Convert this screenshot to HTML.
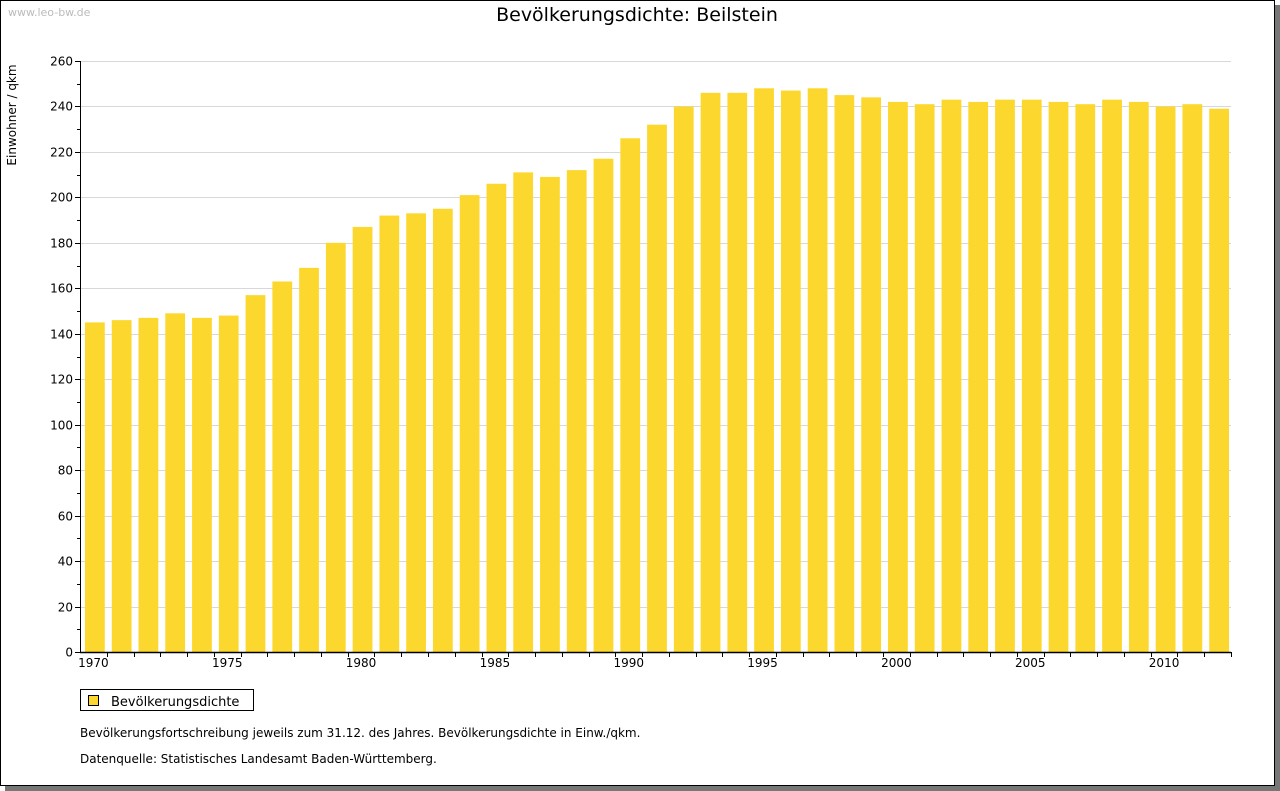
<!DOCTYPE html>
<html><head><meta charset="utf-8"><style>
body{margin:0;background:#fff;}
#frame{position:absolute;left:0;top:0;width:1273px;height:784px;border:1px solid #000;background:#fff;box-shadow:5px 5px 0 #777;font-family:"DejaVu Sans","Liberation Sans",sans-serif;}
</style></head><body>
<div id="frame">
<svg width="1280" height="791" style="position:absolute;left:-1px;top:-1px" font-family="DejaVu Sans, Liberation Sans, sans-serif">
<text x="8" y="16" font-size="11" fill="#bbb">www.leo-bw.de</text>
<text x="637" y="21" font-size="19" text-anchor="middle" fill="#000">Bevölkerungsdichte: Beilstein</text>
<text transform="translate(16,115) rotate(-90)" font-size="12" text-anchor="middle">Einwohner / qkm</text>
<g id="grid"></g><g id="bars"></g><g id="axes"></g>
<rect x="80.5" y="689.5" width="173" height="21" fill="#fff" stroke="#000"/>
<rect x="88.5" y="695.5" width="10" height="10" fill="#fcd82e" stroke="#000"/>
<text x="111" y="706" font-size="13">Bevölkerungsdichte</text>
<text x="80" y="737" font-size="12">Bevölkerungsfortschreibung jeweils zum 31.12. des Jahres. Bevölkerungsdichte in Einw./qkm.</text>
<text x="80" y="763" font-size="12">Datenquelle: Statistisches Landesamt Baden-Württemberg.</text>
</svg></div>
<script>
const years=[1970,1971,1972,1973,1974,1975,1976,1977,1978,1979,1980,1981,1982,1983,1984,1985,1986,1987,1988,1989,1990,1991,1992,1993,1994,1995,1996,1997,1998,1999,2000,2001,2002,2003,2004,2005,2006,2007,2008,2009,2010,2011,2012];
const values=[145,146,147,149,147,148,157,163,169,180,187,192,193,195,201,206,211,209,212,217,226,232,240,246,246,248,247,248,245,244,242,241,243,242,243,243,242,241,243,242,240,241,239];
const yTicks=[0,20,40,60,80,100,120,140,160,180,200,220,240,260];
const NS="http://www.w3.org/2000/svg";
const X0=80,X1=1231,Y0=652,Y1=61,YMAX=260;
const step=(X1-X0)/years.length;
const xs=i=>X0+step*i;
const ys=v=>Y0-(v/YMAX)*(Y0-Y1);
function mk(t,a,p){const e=document.createElementNS(NS,t);for(const k in a)e.setAttribute(k,a[k]);p.appendChild(e);return e;}
const g=document.getElementById('grid'),b=document.getElementById('bars'),ax=document.getElementById('axes');
yTicks.forEach(v=>{const y=Math.round(ys(v))+0.5;
 if(v>0){const l=mk('line',{x1:X0,x2:X1,y1:y,y2:y,stroke:'#d8d8d8'},g);}
 const t=mk('line',{x1:X0-5,x2:X0,y1:y,y2:y,stroke:'#000'},ax);
 const tx=mk('text',{x:X0-7,y:y+4,'font-size':12,'text-anchor':'end'},ax);tx.textContent=v;
 if(v<YMAX){const ym=Math.round(ys(v+10))+0.5;const m=mk('line',{x1:X0-3,x2:X0,y1:ym,y2:ym,stroke:'#000'},ax);}
});
years.forEach((yr,i)=>{
 const r=mk('rect',{x:xs(i)+5,y:ys(values[i]),width:step-7,height:Y0-ys(values[i]),fill:'#fcd82e'},b);
 
 const tx2=Math.round(xs(i+1))+0.5;
 const t=mk('line',{x1:tx2,x2:tx2,y1:Y0,y2:Y0+5,stroke:'#000'},ax);
 if(yr%5===0){const l=mk('text',{x:xs(i)+step/2,y:Y0+15,'font-size':12,'text-anchor':'middle'},ax);l.textContent=yr;}
});
const ya=mk('line',{x1:X0+0.5,x2:X0+0.5,y1:Y1,y2:Y0+1,stroke:'#000'},ax);
const xa=mk('line',{x1:X0,x2:X1,y1:Y0+0.5,y2:Y0+0.5,stroke:'#000','stroke-width':1.5},ax);
</script>
</body></html>
